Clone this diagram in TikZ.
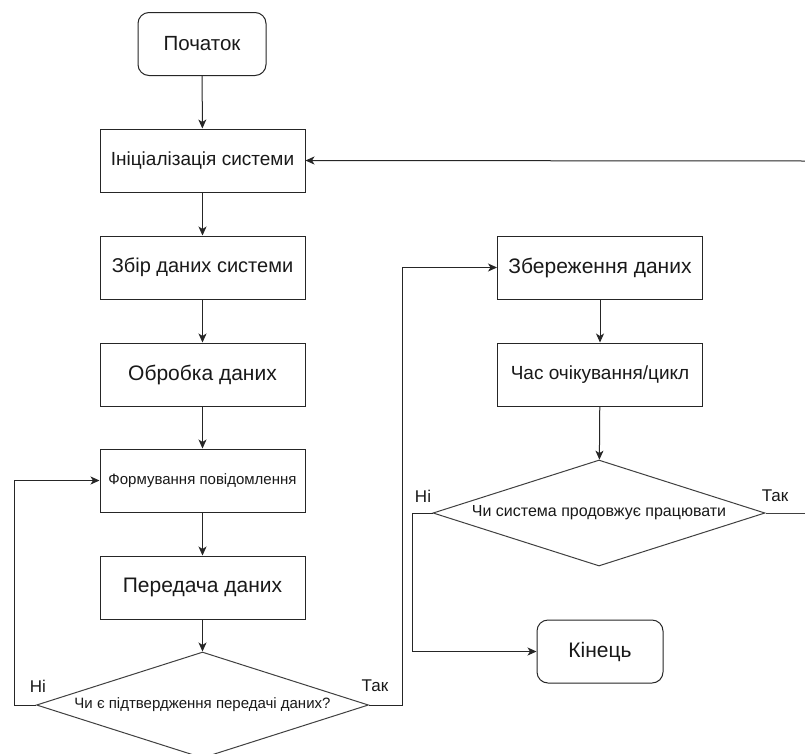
\documentclass[tikz,border=0pt]{standalone}
\usepackage{fontspec}
\setmainfont{Liberation Sans}
\usetikzlibrary{shapes.geometric,arrows.meta}
\newcommand{\fs}[1]{\fontsize{#1}{#1}\selectfont}
\begin{document}
\begin{tikzpicture}[x=1pt,y=-1pt,
  box/.style={draw=black!85, line width=1pt, minimum width=205pt, minimum height=63pt, inner sep=0pt, text=black!90},
  rbox/.style={box, rounded corners=11pt, minimum width=128pt},
  dec/.style={diamond, draw=black!75, line width=1pt, minimum width=332pt, minimum height=106pt, inner sep=0pt, aspect=3.1, text=black!90},
  conn/.style={draw=black!85, line width=1pt, -{Stealth[length=9pt,width=8pt,inset=2.5pt]}},
  plain/.style={draw=black!75, line width=1pt},
  lbl/.style={font=\fs{17}, text=black!90, inner sep=0pt}
]
\useasboundingbox (0,0) rectangle (805,753);
\clip (0,0) rectangle (805,753);
\fill[white] (0,0) rectangle (805,753);

\node[rbox, font=\fs{20.5}] (start) at (202,44) {Початок};
\node[box, font=\fs{19}] (init) at (202.5,160.5) {Ініціалізація системи};
\node[box, font=\fs{20}] (collect) at (202.5,267.5) {Збір даних системи};
\node[box, font=\fs{21}] (proc) at (202.5,374.5) {Обробка даних};
\node[box, font=\fs{15}] (form) at (202.5,480.5) {Формування повідомлення};
\node[box, font=\fs{21}] (send) at (202.5,587.5) {Передача даних};
\node[dec, font=\fs{15}] (d1) at (202.5,705) {Чи є підтвердження передачі даних?};

\node[box, font=\fs{21}] (save) at (600,267.5) {Збереження даних};
\node[box, font=\fs{19}] (wait) at (600,374.5) {Час очікування/цикл};
\node[dec, font=\fs{16}] (d2) at (599,513) {Чи система продовжує працювати};
\node[rbox, minimum width=126pt, font=\fs{21}] (stop) at (600,651.5) {Кінець};

\coordinate (ra) at (807,513);
\coordinate (rb) at (807,161);

\draw[conn] (start) -- (init);
\draw[conn] (init) -- (collect);
\draw[conn] (collect) -- (proc);
\draw[conn] (proc) -- (form);
\draw[conn] (form) -- (send);
\draw[conn] (send) -- (d1);
\draw[conn] (d1.west) -- ++(-22,0) |- (form.west);
\draw[conn] (d1.east) -- ++(33,0) |- (save.west);
\draw[conn] (save) -- (wait);
\draw[conn] (wait) -- (d2);
\draw[conn] (d2.west) -- ++(-20,0) |- (stop.west);
\draw[plain] (d2.east) -- (ra);
\draw[conn] (rb) -- (init.east);

\node[lbl] (l1) at (38,686) {Ні};
\node[lbl] (l2) at (375,686) {Так};
\node[lbl] (l3) at (423,496) {Ні};
\node[lbl] (l4) at (775,496) {Так};
\end{tikzpicture}
\end{document}
